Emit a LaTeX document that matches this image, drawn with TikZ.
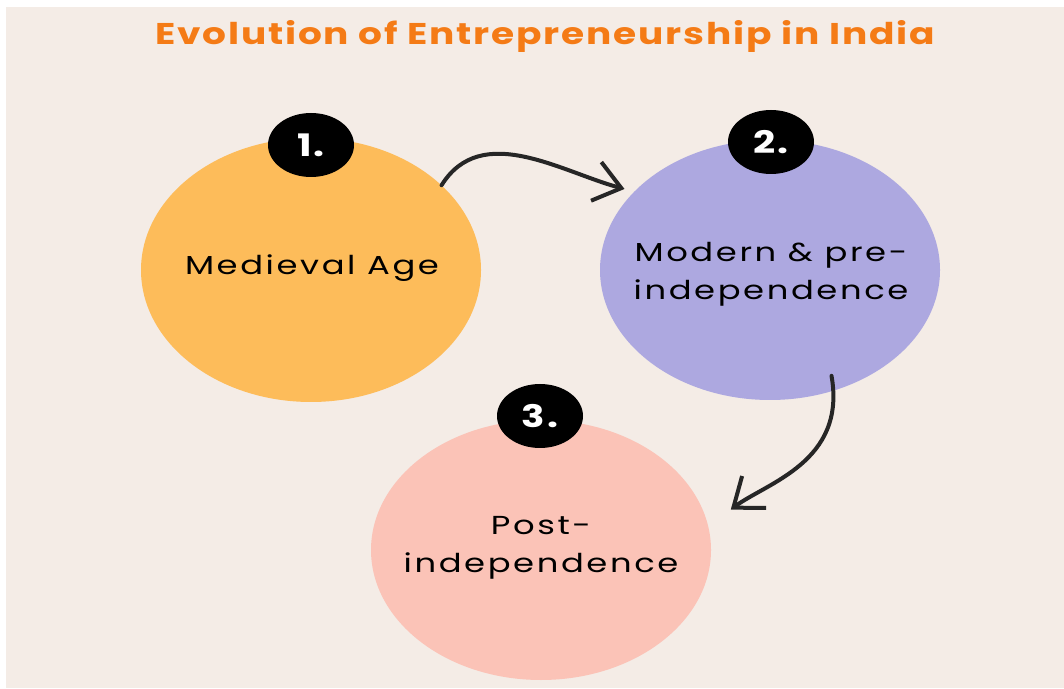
\documentclass[tikz,border=0pt]{standalone}
\usepackage{fontspec}
\setmainfont{Poppins}
\newfontfamily\erafont[FakeStretch=1.3, LetterSpace=10]{Poppins}
\newfontfamily\headfont[FakeStretch=1.25, LetterSpace=6]{Poppins}
\usepackage{tikz}
\usetikzlibrary{shapes.geometric, arrows, arrows.meta, positioning, shapes}
\definecolor{paper}{HTML}{F4ECE6}
\definecolor{titleorange}{HTML}{F47B16}
\definecolor{ageorange}{HTML}{FDBC5A}
\definecolor{agepurple}{HTML}{ADA8E0}
\definecolor{agepink}{HTML}{FBC3B7}
\tikzstyle{era} = [ellipse, inner sep=0pt, minimum width=340pt, minimum height=264pt]
\tikzstyle{eratext} = [align=center, font=\erafont\fontsize{26}{38}\selectfont, text=black]
\tikzstyle{badge} = [ellipse, fill=black, inner sep=0pt, minimum width=86pt, minimum height=64pt, text=white, font=\headfont\fontsize{31}{31}\selectfont\bfseries]
\tikzstyle{sketch} = [line width=4pt, draw=black!85, line cap=round, -{Straight Barb[length=26pt,width=40pt,line width=4pt]}]

\begin{document}
\begin{tikzpicture}[x=1pt, y=1pt]
% page and background
\useasboundingbox (0,0) rectangle (1064,688);
\fill[paper] (6,0) rectangle (1064,681);

% title
\node (title) at (545,652) {\headfont\fontsize{30}{30}\selectfont\bfseries\color{titleorange}Evolution of Entrepreneurship in India};

% three eras
\node (medieval) [era, fill=ageorange] at (311,418) {};
\node (modern) [era, fill=agepurple, minimum height=260pt] at (770,418) {};
\node (post) [era, fill=agepink, minimum height=260pt] at (541,138) {};

\node (medievaltxt) [eratext] at (312,420) {Medieval Age};
\node (moderntxt) [eratext] at (771,414) {Modern \& pre-\\independence};
\node (posttxt) [eratext] at (541,140) {Post-\\independence};

% number badges
\node (one) [badge] at (311,543) {1.};
\node (two) [badge] at (771,546) {2.};
\node (three) [badge] at (540,272) {3.};

% hand drawn arrows between the eras
\draw [sketch, shorten >=10pt] (medieval.33) to[out=58, in=165] (modern.150);
\draw [sketch, shorten <=-15pt, shorten >=28pt] (modern.-62) to[out=-80, in=37] (post.8);
\end{tikzpicture}
\end{document}
